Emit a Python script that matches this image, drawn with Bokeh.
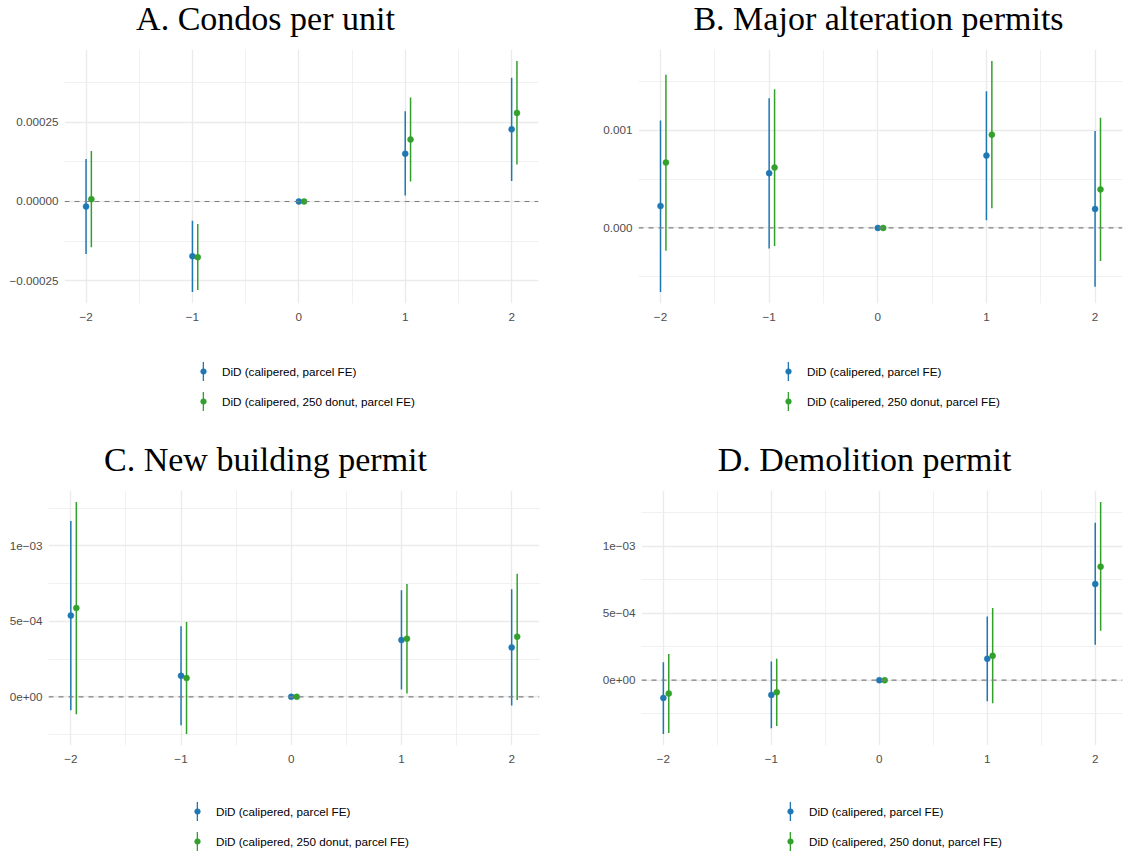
from bokeh.plotting import figure
from bokeh.models import (FixedTicker, CustomJSTickFormatter, Span, Legend,
                          LegendItem, Range1d, Label, ColumnDataSource)
from bokeh.layouts import column, row
from bokeh.embed import file_html
from bokeh.resources import INLINE

# ---------------- data ----------------
periods = [-2, -1, 0, 1, 2]
dodge = 0.05
series_names = ["DiD (calipered, parcel FE)", "DiD (calipered, 250 donut, parcel FE)"]
colors = ["#1F78B4", "#33A02C"]

x_ticks = [-2, -1, 0, 1, 2]
x_tick_labels = ["\u22122", "\u22121", "0", "1", "2"]
x_minor = [-1.5, -0.5, 0.5, 1.5]

# A. Condos per unit
a_title = "A. Condos per unit"
a_est_1 = [-0.0000158, -0.000173, 0.0, 0.000151, 0.000228]
a_lo_1 = [-0.000166, -0.000286, 0.0, 0.0000189, 0.0000651]
a_hi_1 = [0.000134, -0.0000609, 0.0, 0.000285, 0.000391]
a_est_2 = [0.0000074, -0.000176, 0.0, 0.000196, 0.000280]
a_lo_2 = [-0.000145, -0.000280, 0.0, 0.000063, 0.000117]
a_hi_2 = [0.000160, -0.0000714, 0.0, 0.000329, 0.000444]
a_yticks = [-0.00025, 0.0, 0.00025]
a_ylabels = ["\u22120.00025", "0.00000", "0.00025"]
a_yminor = [-0.000125, 0.000125, 0.000375]

# B. Major alteration permits
b_title = "B. Major alteration permits"
b_est_1 = [0.000224, 0.000561, 0.0, 0.000741, 0.000194]
b_lo_1 = [-0.000656, -0.000211, 0.0, 0.0000782, -0.000602]
b_hi_1 = [0.00110, 0.00133, 0.0, 0.00140, 0.000993]
b_est_2 = [0.000670, 0.000619, 0.0, 0.000956, 0.000395]
b_lo_2 = [-0.000235, -0.000184, 0.0, 0.000201, -0.000340]
b_hi_2 = [0.00157, 0.00142, 0.0, 0.00171, 0.00113]
b_yticks = [0.0, 0.001]
b_ylabels = ["0.000", "0.001"]
b_yminor = [-0.0005, 0.0005, 0.0015]

# C. New building permit
c_title = "C. New building permit"
c_est_1 = [0.000538, 0.000139, 0.0, 0.000376, 0.000327]
c_lo_1 = [-0.0000885, -0.000188, 0.0, 0.0000487, -0.0000575]
c_hi_1 = [0.001164, 0.000467, 0.0, 0.000706, 0.000712]
c_est_2 = [0.000588, 0.000124, 0.0, 0.000385, 0.000398]
c_lo_2 = [-0.000115, -0.000246, 0.0, 0.0000221, -0.0000221]
c_hi_2 = [0.00129, 0.000496, 0.0, 0.000748, 0.000816]
c_yticks = [0.0, 0.0005, 0.001]
c_ylabels = ["0e+00", "5e\u221204", "1e\u221203"]
c_yminor = [-0.00025, 0.00025, 0.00075, 0.00125]

# D. Demolition permit
d_title = "D. Demolition permit"
d_est_1 = [-0.000132, -0.000110, 0.0, 0.000160, 0.000718]
d_lo_1 = [-0.000401, -0.000359, 0.0, -0.000157, 0.000264]
d_hi_1 = [0.000135, 0.000140, 0.0, 0.000476, 0.001175]
d_est_2 = [-0.000100, -0.0000898, 0.0, 0.000182, 0.000848]
d_lo_2 = [-0.000394, -0.000342, 0.0, -0.000172, 0.000369]
d_hi_2 = [0.000195, 0.000160, 0.0, 0.000539, 0.00133]
d_yticks = [0.0, 0.0005, 0.001]
d_ylabels = ["0e+00", "5e\u221204", "1e\u221203"]
d_yminor = [-0.00025, 0.00025, 0.00075, 0.00125]

FMT_CODE = """
let best = 0, bd = Infinity;
for (let i = 0; i < t.length; i++) {
  const d = Math.abs(t[i] - tick);
  if (d < bd) { bd = d; best = i; }
}
return l[best];
"""

TXT = "11.7px"


def blank_fig(width, height, y0=0, y1=1):
    f = figure(width=width, height=height, x_range=Range1d(0, 1), y_range=Range1d(y0, y1),
               output_backend="svg", toolbar_location=None,
               x_axis_location=None, y_axis_location=None,
               min_border_left=0, min_border_right=0, min_border_top=0, min_border_bottom=0,
               background_fill_color="white", border_fill_color="white",
               outline_line_color=None)
    f.xgrid.visible = False
    f.ygrid.visible = False
    return f


def legend_common(**kw):
    return dict(orientation="vertical", glyph_height=24, label_height=24,
                spacing=6, padding=0, margin=0,
                border_line_color=None, background_fill_alpha=0,
                label_text_font="Liberation Sans", label_text_font_size=TXT,
                label_text_color="black", **kw)


def make_panel(title, series, yticks, ylabels, yminor, width,
               title_h, main_h, legend_h, bl, br, bb, title_xy, legend_xy):
    # ----- title strip -----
    t = blank_fig(width, title_h)
    t.add_layout(Label(x=title_xy[0], y=title_xy[1], x_units="screen", y_units="screen",
                       text=title, text_font="Liberation Serif", text_font_size="34px",
                       text_align="center", text_baseline="alphabetic",
                       text_color="black"))

    # ----- main panel -----
    allv = []
    for est, lo, hi in series:
        allv += est + lo + hi
    ymin, ymax = min(allv), max(allv)
    ypad = (ymax - ymin) * 0.05
    xmin, xmax = min(periods), max(periods) + dodge
    xpad = (xmax - xmin) * 0.05

    p = figure(width=width, height=main_h,
               x_range=Range1d(xmin - xpad, xmax + xpad),
               y_range=Range1d(ymin - ypad, ymax + ypad),
               output_backend="svg", toolbar_location=None,
               min_border_left=bl, min_border_right=br,
               min_border_top=0, min_border_bottom=bb,
               background_fill_color="white", border_fill_color="white",
               outline_line_color=None)

    xt = FixedTicker(ticks=x_ticks, minor_ticks=x_minor)
    yt = FixedTicker(ticks=yticks, minor_ticks=yminor)
    p.xaxis.ticker = xt
    p.yaxis.ticker = yt
    p.xgrid.ticker = xt
    p.ygrid.ticker = yt
    p.xaxis.formatter = CustomJSTickFormatter(args=dict(t=x_ticks, l=x_tick_labels), code=FMT_CODE)
    p.yaxis.formatter = CustomJSTickFormatter(args=dict(t=yticks, l=ylabels), code=FMT_CODE)

    for ax in (p.xaxis[0], p.yaxis[0]):
        ax.axis_line_color = None
        ax.major_tick_line_color = None
        ax.minor_tick_line_color = None
        ax.major_tick_out = 0
        ax.major_tick_in = 0
        ax.minor_tick_out = 0
        ax.minor_tick_in = 0
        ax.major_label_text_font = "Liberation Sans"
        ax.major_label_text_font_size = TXT
        ax.major_label_text_color = "#4D4D4D"
    p.xaxis.major_label_standoff = 9
    p.yaxis.major_label_standoff = 6

    for g in (p.xgrid[0], p.ygrid[0]):
        g.grid_line_color = "#EBEBEB"
        g.grid_line_width = 1.4
        g.minor_grid_line_color = "#EBEBEB"
        g.minor_grid_line_width = 0.7

    p.add_layout(Span(location=0, dimension="width", line_color="#808080",
                      line_dash="5 5", line_width=1.2))

    for k, (est, lo, hi) in enumerate(series):
        xs = [x + dodge * k for x in periods]
        c = colors[k]
        p.segment(x0=xs, y0=lo, x1=xs, y1=hi, line_color=c, line_width=1.5)
        p.scatter(x=xs, y=est, size=6, fill_color=c, line_color=c, line_width=0.5)

    # ----- legend strip (keys: vertical range bar + dot) -----
    # the strip's y range lies above the data, so its glyphs only show as legend keys
    lg = blank_fig(width, legend_h, 1, 2)
    bar_items, dot_items = [], []
    for k, (est, lo, hi) in enumerate(series):
        c = colors[k]
        src = ColumnDataSource(dict(x=periods, est=est, lo=lo, hi=hi))
        lr = lg.vbar(x="x", top="hi", bottom="lo", width=0.1, source=src,
                     fill_color=c, line_color=None)
        dr = lg.scatter(x="x", y="est", size=5.6, source=src,
                        fill_color=c, line_color=c, line_width=0.6)
        bar_items.append(LegendItem(label=series_names[k], renderers=[lr]))
        dot_items.append(LegendItem(label=" ", renderers=[dr]))
    lg.add_layout(Legend(items=bar_items, location=legend_xy, glyph_width=2,
                         label_standoff=18, **legend_common()))
    lg.add_layout(Legend(items=dot_items, location=(legend_xy[0] - 6, legend_xy[1]),
                         glyph_width=14, label_standoff=2, **legend_common()))

    return column(t, p, lg)


colA = make_panel(a_title, [(a_est_1, a_lo_1, a_hi_1), (a_est_2, a_lo_2, a_hi_2)],
                  a_yticks, a_ylabels, a_yminor, 566, 49, 284, 108, 64, 28, 30,
                  (201, 31), (138, 28))
colB = make_panel(b_title, [(b_est_1, b_lo_1, b_hi_1), (b_est_2, b_lo_2, b_hi_2)],
                  b_yticks, b_ylabels, b_yminor, 567, 49, 284, 108, 72, 11, 30,
                  (240, 31), (149, 28))
colC = make_panel(c_title, [(c_est_1, c_lo_1, c_hi_1), (c_est_2, c_lo_2, c_hi_2)],
                  c_yticks, c_ylabels, c_yminor, 566, 49, 285, 79, 48, 27, 30,
                  (217, 31), (148, 1))
colD = make_panel(d_title, [(d_est_1, d_lo_1, d_hi_1), (d_est_2, d_lo_2, d_hi_2)],
                  d_yticks, d_ylabels, d_yminor, 567, 49, 285, 79, 75, 11, 30,
                  (223, 31), (148, 1))

layout = column(row(colA, colB), row(colC, colD))
open("out.html", "w").write(file_html(layout, INLINE))
